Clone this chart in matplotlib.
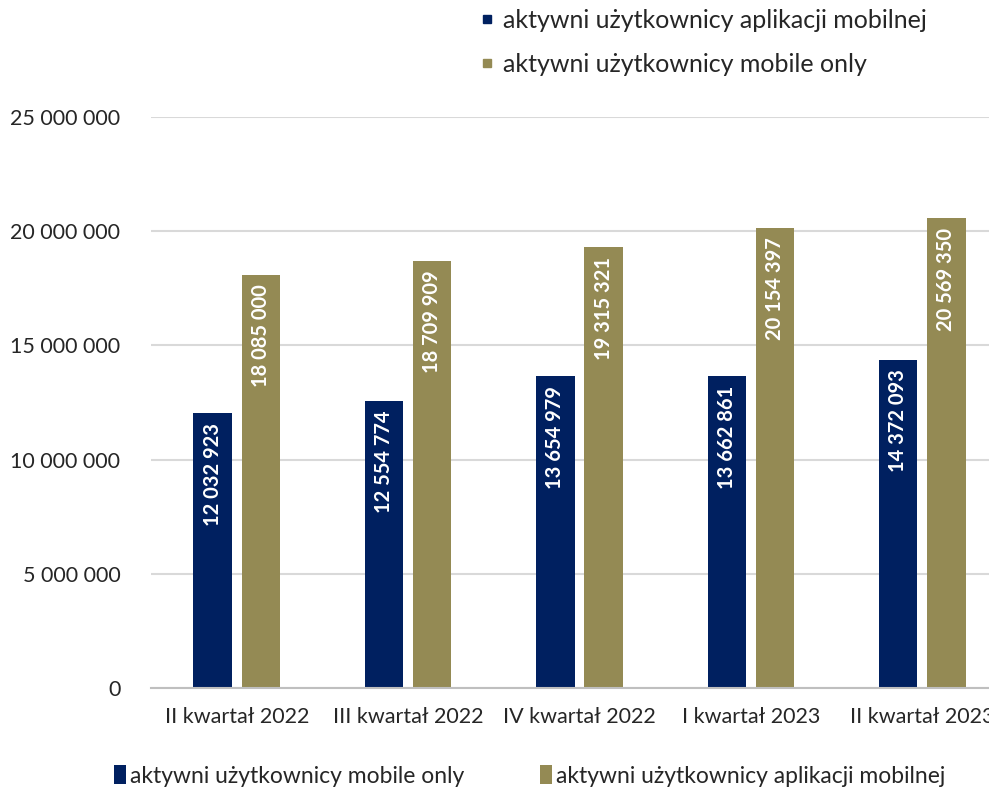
import matplotlib
matplotlib.use("Agg")
import matplotlib.pyplot as plt
from matplotlib.lines import Line2D
from matplotlib.patches import Patch
import numpy as np

plt.rcParams['font.family'] = ['Lato', 'DejaVu Sans']

categories = ["II kwartał 2022", "III kwartał 2022", "IV kwartał 2022", "I kwartał 2023", "II kwartał 2023"]
mobile_only = [12032923, 12554774, 13654979, 13662861, 14372093]
app_users = [18085000, 18709909, 19315321, 20154397, 20569350]
yticks = [0, 5000000, 10000000, 15000000, 20000000, 25000000]

navy = "#002060"
olive = "#948A54"

def fmt(v):
    return f"{v:,}".replace(",", " ")

fig = plt.figure(figsize=(9.89, 7.88), dpi=100)
W, H = 989, 788
left, right = 151, 1008
bottom, top = 688, 117
ax = fig.add_axes([left / W, 1 - bottom / H, (right - left) / W, (bottom - top) / H])

x = np.arange(len(categories))
bw = 0.224
off = 0.141
b1 = ax.bar(x - off, mobile_only, bw, color=navy, zorder=3)
b2 = ax.bar(x + off, app_users, bw, color=olive, zorder=3)

for bars, vals in ((b1, mobile_only), (b2, app_users)):
    for r, v in zip(bars, vals):
        ax.annotate(fmt(v), (r.get_x() + r.get_width() / 2, v), xytext=(0, -7),
                    textcoords="offset points", rotation=90, ha="center", va="top",
                    color="white", fontsize=14.5, fontweight="bold", zorder=4)

ax.set_xlim(-0.5, len(categories) - 0.5)
ax.set_ylim(0, 25000000)
ax.set_yticks(yticks)
ax.set_yticklabels([fmt(v) for v in yticks], fontsize=15.5, color="#262626")
ax.set_xticks(x)
ax.set_xticklabels(categories, fontsize=15.5, color="#262626")
ax.tick_params(axis="both", length=0)
ax.tick_params(axis="y", pad=22)
ax.tick_params(axis="x", pad=14)
ax.yaxis.grid(True, color="#D9D9D9", linewidth=1.5, zorder=0)
for s in ["top", "right", "left"]:
    ax.spines[s].set_visible(False)
ax.spines["bottom"].set_color("#BFBFBF")
ax.spines["bottom"].set_linewidth(1.5)
ax.spines["bottom"].set_zorder(3)

# top legend (as in reference)
top_handles = [Line2D([], [], marker="s", linestyle="none", color=navy, markersize=6),
               Line2D([], [], marker="s", linestyle="none", color=olive, markersize=6)]
fig.legend(top_handles, ["aktywni użytkownicy aplikacji mobilnej", "aktywni użytkownicy mobile only"],
           loc="upper left", bbox_to_anchor=(457 / W, 1 + 14 / H), frameon=False,
           fontsize=18, handlelength=0.6, handletextpad=0.35, labelspacing=0.85,
           labelcolor="#262626")

# bottom legend
bot_handles = [Patch(facecolor=navy), Patch(facecolor=olive)]
fig.legend(bot_handles, ["aktywni użytkownicy mobile only", "aktywni użytkownicy aplikacji mobilnej"],
           loc="center left", bbox_to_anchor=(93 / W, 1 - 776 / H), frameon=False, ncol=2,
           fontsize=16.5, handlelength=0.55, handleheight=0.9, handletextpad=0.15,
           columnspacing=3.3, labelcolor="#262626")

fig.savefig("out.png", dpi=100)
